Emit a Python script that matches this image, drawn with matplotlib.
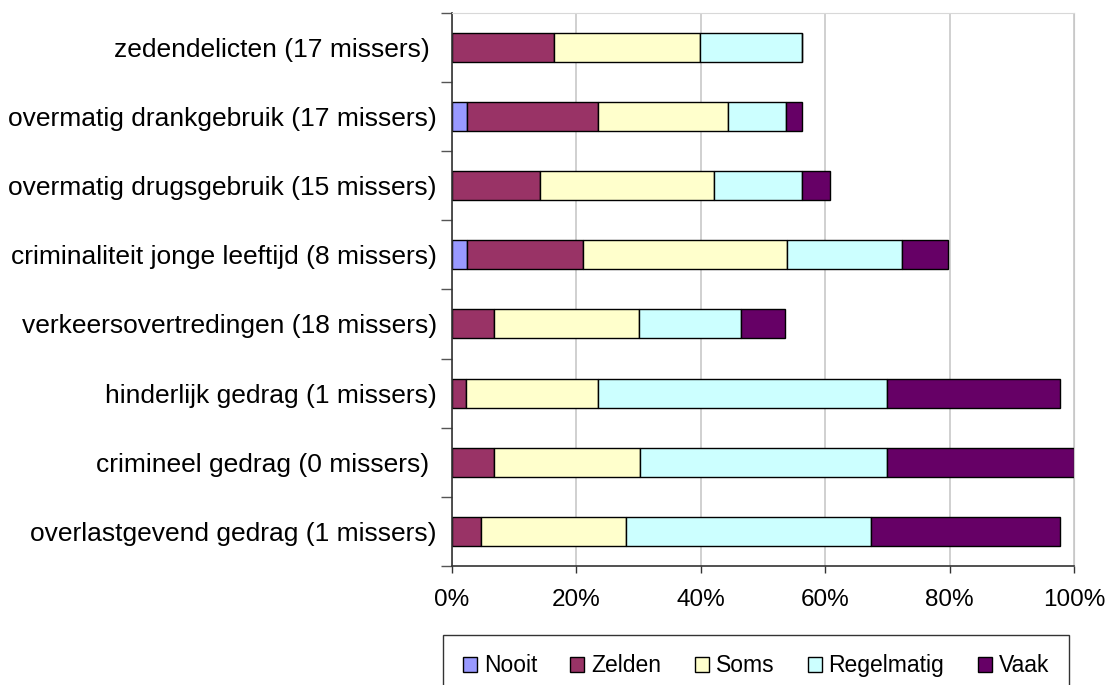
import numpy as np
import matplotlib
matplotlib.use("Agg")
import matplotlib.pyplot as plt

plt.rcParams['font.family'] = ['Liberation Sans', 'DejaVu Sans']

# categories, top to bottom
categories = [
    "zedendelicten (17 missers) ",
    "overmatig drankgebruik (17 missers)",
    "overmatig drugsgebruik (15 missers)",
    "criminaliteit jonge leeftijd (8 missers)",
    "verkeersovertredingen (18 missers)",
    "hinderlijk gedrag (1 missers)",
    "crimineel gedrag (0 missers) ",
    "overlastgevend gedrag (1 missers)",
]

series_names = ["Nooit", "Zelden", "Soms", "Regelmatig", "Vaak"]

nooit      = [0.0, 2.4, 0.0, 2.4, 0.0, 0.0, 0.0, 0.0]
zelden     = [16.4, 21.1, 14.1, 18.6, 6.8, 2.3, 6.8, 4.6]
soms       = [23.4, 20.9, 28.0, 32.8, 23.3, 21.1, 23.4, 23.3]
regelmatig = [16.4, 9.3, 14.1, 18.6, 16.3, 46.5, 39.7, 39.5]
vaak       = [0.0, 2.5, 4.5, 7.3, 7.2, 27.8, 30.1, 30.3]

colors = ["#9999FF", "#993366", "#FFFFCC", "#CCFFFF", "#660066"]

xticks = [0, 20, 40, 60, 80, 100]
xticklabels = ["0%", "20%", "40%", "60%", "80%", "100%"]

fig = plt.figure(figsize=(11.05, 6.85), dpi=100)
ax = fig.add_axes([0.409, 0.174, 0.563, 0.807])

n = len(categories)
y = np.arange(n)[::-1]  # top category at top
left = np.zeros(n)
handles = []
for name, vals, c in zip(series_names, [nooit, zelden, soms, regelmatig, vaak], colors):
    vals = np.array(vals)
    b = ax.barh(y, vals, left=left, height=0.42, color=c, edgecolor="black",
                linewidth=1.0, label=name)
    handles.append(b)
    left = left + vals

ax.set_xlim(0, 100)
ax.set_ylim(-0.5, n - 0.5)

ax.set_xticks(xticks)
ax.set_xticklabels(xticklabels, fontsize=17.5)
ax.tick_params(axis='x', direction='out', length=5, width=1, color='#333333', pad=12)

ax.set_yticks(y)
ax.set_yticklabels(categories, fontsize=19)
ax.tick_params(axis='y', which='major', length=0, pad=11)
ax.set_yticks(np.arange(n + 1) - 0.5, minor=True)
ax.tick_params(axis='y', which='minor', direction='out', length=8, width=1, color='#555555')

ax.grid(axis='x', color='#C8C8C8', linewidth=1.2)
ax.set_axisbelow(True)

ax.spines['left'].set_color('#333333')
ax.spines['bottom'].set_color('#333333')
ax.spines['top'].set_color('#D8D8D8')
ax.spines['right'].set_color('#C8C8C8')
for s in ['left', 'bottom']:
    ax.spines[s].set_linewidth(1.2)

leg = fig.legend(handles=handles, labels=series_names, loc='upper left',
                 bbox_to_anchor=(0.401, 0.073), borderaxespad=0, ncol=5,
                 fontsize=16.5, frameon=True, fancybox=False, shadow=False,
                 handlelength=0.62, handleheight=0.62, handletextpad=0.3,
                 columnspacing=1.45, borderpad=0.85)
leg.get_frame().set_edgecolor('black')
leg.get_frame().set_linewidth(1.0)

fig.savefig("out.png", dpi=100)
